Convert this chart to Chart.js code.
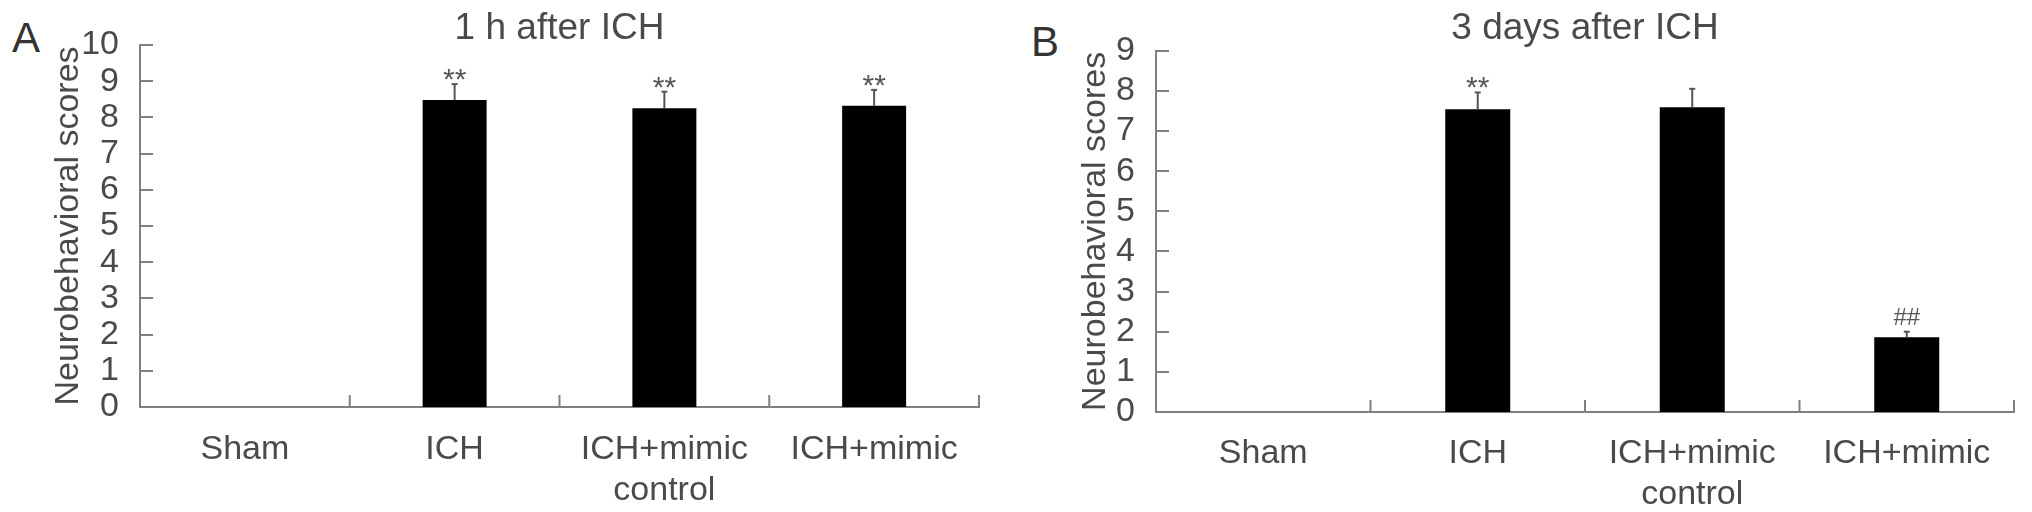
<!DOCTYPE html>
<html><head><meta charset="utf-8">
<script src="https://cdn.jsdelivr.net/npm/chart.js@4.4.0/dist/chart.umd.min.js"></script>
<style>
html,body{margin:0;padding:0;background:#fff;}
body{width:2032px;height:512px;position:relative;overflow:hidden;font-family:"Liberation Sans",Arial,sans-serif;}
canvas{position:absolute;top:0;}
#cA{left:0;} #cB{left:1000px;}
.panel{position:absolute;font-size:42px;line-height:42px;color:#333;}
</style></head><body>
<div class="panel" style="left:12px;top:17px">A</div>
<div class="panel" style="left:1031px;top:21px">B</div>
<canvas id="cA" width="1000" height="512"></canvas>
<canvas id="cB" width="1032" height="512"></canvas>
<script>
// ---- data ----
const categories = ['Sham', 'ICH', ['ICH+mimic', 'control'], 'ICH+mimic'];
const titleA = '1 h after ICH';
const titleB = '3 days after ICH';
const yAxisTitle = 'Neurobehavioral scores';
const scoresA = [0, 8.48, 8.25, 8.32];
const errorsA = [0, 0.44, 0.46, 0.44];
const marksA  = ['', '**', '**', '**'];
const scoresB = [0, 7.54, 7.59, 1.86];
const errorsB = [0, 0.42, 0.46, 0.14];
const marksB  = ['', '**', '', '##'];
const yMaxA = 10;
const yMaxB = 9;

// ---- styles ----
const FONT = '"Liberation Sans", Arial, sans-serif';
const TEXT = '#4a4a4a';
const AXIS = '#808080';

const decor = {
  id: 'decor',
  afterDatasetsDraw(chart, args, opts) {
    const {ctx, chartArea: a, scales: {x, y}} = chart;
    const meta = chart.getDatasetMeta(0);
    const data = chart.data.datasets[0].data;
    ctx.save();
    ctx.strokeStyle = AXIS;
    ctx.lineWidth = 2;
    // inward y tick marks
    y.ticks.forEach(t => {
      const py = Math.round(y.getPixelForValue(t.value));
      ctx.beginPath(); ctx.moveTo(a.left, py); ctx.lineTo(a.left + 13, py); ctx.stroke();
    });
    // category boundary ticks on x axis
    const n = x.ticks.length;
    for (let i = 0; i < n; i++) {
      const px = i < n - 1 ? (x.getPixelForValue(i) + x.getPixelForValue(i + 1)) / 2 : a.right;
      ctx.beginPath(); ctx.moveTo(px, a.bottom); ctx.lineTo(px, a.bottom - 12); ctx.stroke();
    }
    // error bars + significance marks
    data.forEach((v, i) => {
      const e = opts.errors[i];
      const bx = meta.data[i].x;
      const base = y.getPixelForValue(v);
      const top = y.getPixelForValue(v + e);
      if (e) {
        ctx.strokeStyle = '#555'; ctx.lineWidth = 2;
        ctx.beginPath(); ctx.moveTo(bx, base); ctx.lineTo(bx, top); ctx.stroke();
        ctx.beginPath(); ctx.moveTo(bx - 3, top); ctx.lineTo(bx + 3, top); ctx.stroke();
      }
      const m = opts.marks[i];
      if (m) {
        ctx.fillStyle = '#555';
        ctx.textAlign = 'center';
        ctx.textBaseline = 'alphabetic';
        if (m === '##') {
          ctx.font = '24px ' + FONT;
          ctx.fillText(m, bx, top - 7);
        } else {
          ctx.font = '30px ' + FONT;
          ctx.fillText(m, bx, top + 5);
        }
      }
    });
    ctx.restore();
  }
};

function makeChart(id, title, scores, errors, marks, yMax, geo) {
  return new Chart(document.getElementById(id), {
    type: 'bar',
    data: {
      labels: categories,
      datasets: [{
        data: scores,
        backgroundColor: '#000',
        borderWidth: 0,
        barPercentage: geo.bar,
        categoryPercentage: 1
      }]
    },
    options: {
      responsive: false,
      animation: false,
      devicePixelRatio: 1,
      layout: {padding: {left: geo.padL, right: geo.padR, top: 0, bottom: 0}},
      plugins: {
        legend: {display: false},
        tooltip: {enabled: false},
        title: {
          display: true, text: title, color: TEXT, fullSize: false,
          font: {family: FONT, size: 37, weight: 'normal', lineHeight: 0.8},
          padding: {top: 14.4, bottom: geo.titleBottom}
        },
        decor: {errors: errors, marks: marks}
      },
      scales: {
        x: {
          grid: {display: false},
          border: {display: true, color: AXIS, width: 2},
          ticks: {font: {family: FONT, size: 34}, color: TEXT, padding: geo.xPad, maxRotation: 0, autoSkip: false},
          afterFit(s) { s.height = geo.xH; }
        },
        y: {
          min: 0, max: yMax,
          grid: {display: false},
          border: {display: true, color: AXIS, width: 2},
          ticks: {stepSize: 1, autoSkip: false, font: {family: FONT, size: 34}, color: TEXT, padding: 13},
          title: {display: true, text: yAxisTitle, color: TEXT, padding: 0, font: {family: FONT, size: 34}},
          afterFit(s) { s.width = geo.yW; }
        }
      }
    },
    plugins: [decor]
  });
}

makeChart('cA', titleA, scoresA, errorsA, marksA, yMaxA,
  {bar: 0.305, padL: 48, padR: 21, yW: 92, xH: 105, xPad: 14, titleBottom: 1});
makeChart('cB', titleB, scoresB, errorsB, marksB, yMaxB,
  {bar: 0.303, padL: 75, padR: 18, yW: 81, xH: 100, xPad: 13, titleBottom: 6.7});
</script>
</body></html>
